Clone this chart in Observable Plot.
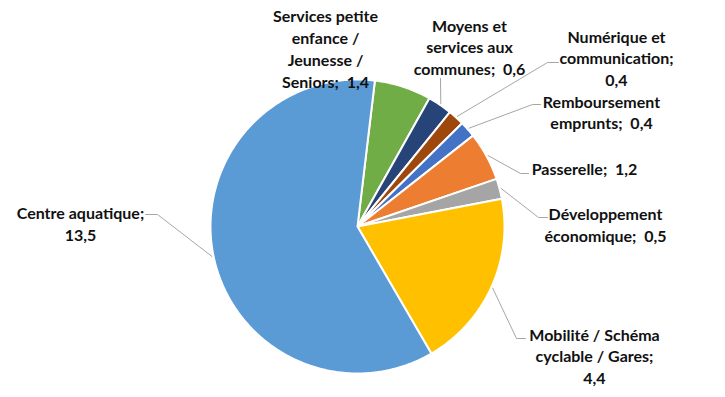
<!DOCTYPE html>
<html>
<head>
<meta charset="utf-8">
<script src="https://cdn.jsdelivr.net/npm/d3@7"></script>
<script src="https://cdn.jsdelivr.net/npm/@observablehq/plot@0.6"></script>
<style>
  html, body { margin: 0; padding: 0; background: #fff; }
  #chart svg { display: block; }
</style>
</head>
<body>
<div id="chart"></div>
<script>
// ---- Data ----
const categories = [
  "Services petite enfance / Jeunesse / Seniors",
  "Moyens et services aux communes",
  "Numérique et communication",
  "Remboursement emprunts",
  "Passerelle",
  "Développement économique",
  "Mobilité / Schéma cyclable / Gares",
  "Centre aquatique"
];
const values = [1.4, 0.6, 0.4, 0.4, 1.2, 0.5, 4.4, 13.5];
const colors = ["#70AD47", "#264478", "#9E480E", "#4472C4", "#ED7D31", "#A5A5A5", "#FFC000", "#5B9BD5"];
// wrapped label text (category part)
const labelLines = [
  "Services petite\nenfance /\nJeunesse /\nSeniors;",
  "Moyens et\nservices aux\ncommunes;",
  "Numérique et\ncommunication;\n",
  "Remboursement\nemprunts;",
  "Passerelle;",
  "Développement\néconomique;",
  "Mobilité / Schéma\ncyclable / Gares;\n",
  "Centre aquatique;\n"
];

// ---- Layout (pixels) ----
const W = 725, H = 397;
const cx = 357, cy = 226, R = 147;
const startDeg = 6.8;
const labelPos = [[325, 47.5], [469, 46], [616, 57], [601, 111], [584, 168], [605, 223.5], [594, 355], [80, 222.5]];
// leader line tail points (elbow, end) near the label; null = no leader
const leaderTail = [
  null,
  [[440, 78]],
  [[547, 62], [558, 62]],
  [[532, 104], [540, 104]],
  [[520, 173], [528, 173]],
  [[538, 217], [547, 217]],
  [[516, 338], [525, 338]],
  [[157, 214], [145, 214]]
];

const fmt = v => String(v).replace(".", ",");
const start = startDeg * Math.PI / 180;
const arcs = d3.pie().sort(null).startAngle(start).endAngle(start + 2 * Math.PI)(values);

const slicePts = [];
arcs.forEach((a, i) => {
  slicePts.push({name: categories[i], color: colors[i], x: cx, y: cy});
  const n = Math.max(4, Math.ceil((a.endAngle - a.startAngle) / (0.5 * Math.PI / 180)));
  for (let k = 0; k <= n; k++) {
    const t = a.startAngle + (a.endAngle - a.startAngle) * k / n;
    slicePts.push({name: categories[i], color: colors[i], x: cx + R * Math.sin(t), y: cy - R * Math.cos(t)});
  }
});

const leaderPts = [];
arcs.forEach((a, i) => {
  if (!leaderTail[i]) return;
  const m = (a.startAngle + a.endAngle) / 2;
  leaderPts.push({name: categories[i], x: cx + R * 1.01 * Math.sin(m), y: cy - R * 1.01 * Math.cos(m)});
  leaderTail[i].forEach(p => leaderPts.push({name: categories[i], x: p[0], y: p[1]}));
});

const labels = categories.map((c, i) => {
  const base = labelLines[i];
  const text = base.endsWith("\n") ? base + fmt(values[i]) : base + "  " + fmt(values[i]);
  return {name: c, text, x: labelPos[i][0], y: labelPos[i][1]};
});

const chart = Plot.plot({
  width: W,
  height: H,
  margin: 0,
  x: {type: "identity", axis: null},
  y: {type: "identity", axis: null},
  color: {type: "identity"},
  style: {fontFamily: "Lato, 'Noto Sans', sans-serif", background: "#fff"},
  marks: [
    Plot.line(leaderPts, {x: "x", y: "y", z: "name", stroke: "#A6A6A6", strokeWidth: 1, curve: "linear"}),
    Plot.line(slicePts, {x: "x", y: "y", z: "name", fill: "color", stroke: "#fff", strokeWidth: 2, curve: "linear-closed", strokeLinejoin: "round"}),
    Plot.text(labels, {x: "x", y: "y", text: "text", textAnchor: "middle", lineAnchor: "middle", lineHeight: 1.36, fontSize: 16, fontWeight: "bold", fill: "#111"})
  ]
});
document.getElementById("chart").appendChild(chart);
</script>
</body>
</html>
